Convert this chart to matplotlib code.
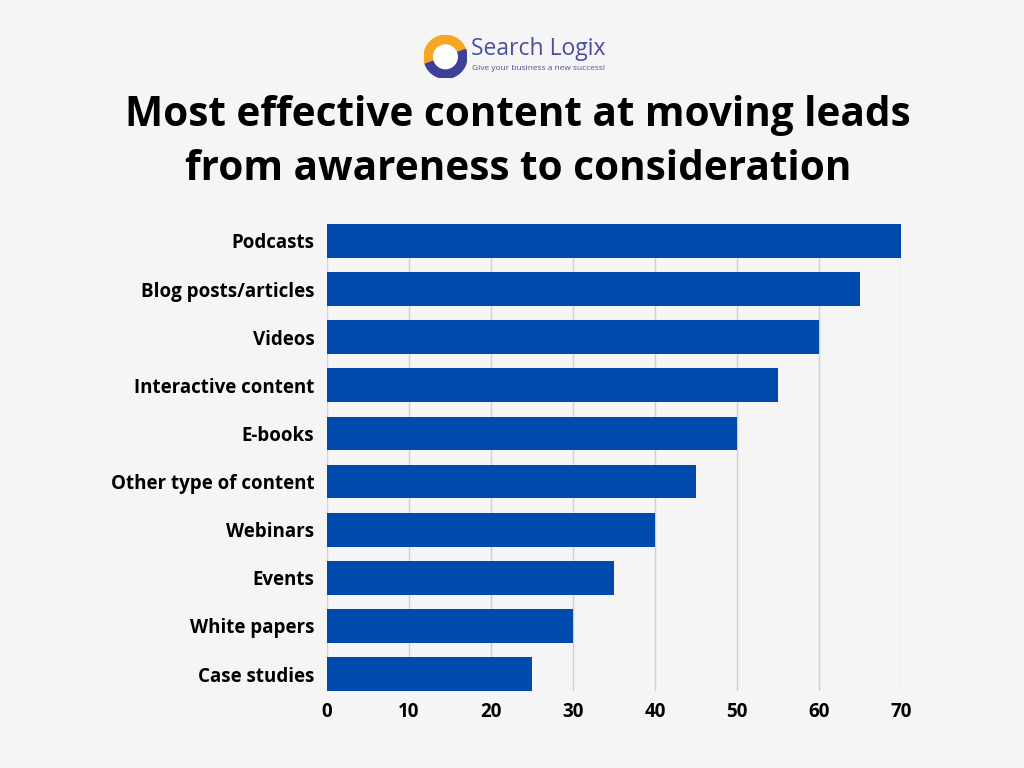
import matplotlib
matplotlib.use("Agg")
import matplotlib.pyplot as plt
from matplotlib.patches import Wedge, Circle

categories = ["Podcasts", "Blog posts/articles", "Videos", "Interactive content", "E-books",
              "Other type of content", "Webinars", "Events", "White papers", "Case studies"]
values = [70, 65, 60, 55, 50, 45, 40, 35, 30, 25]
xticks = [0, 10, 20, 30, 40, 50, 60, 70]

bg = "#f5f5f5"
bar_color = "#004aad"

plt.rcParams["font.family"] = ["Open Sans", "DejaVu Sans"]

fig = plt.figure(figsize=(10.24, 7.68), dpi=100, facecolor=bg)
ax = fig.add_axes([0.3193, 0.1003, 0.5606, 0.608], facecolor=bg)

ypos = list(range(len(categories)))
ax.barh(ypos, values, height=0.7, color=bar_color, zorder=3)
ax.set_ylim(len(categories) - 0.65, -0.35)
ax.set_xlim(0, 70)
ax.set_yticks(ypos)
ax.set_yticklabels(categories, fontsize=13.5, fontweight="bold")
ax.set_xticks(xticks)
ax.set_xticklabels([str(t) for t in xticks], fontsize=13.5, fontweight="bold")
ax.tick_params(axis="y", length=0, pad=9)
ax.tick_params(axis="x", length=0, pad=8)
ax.grid(axis="x", color="#d0d0d0", linewidth=1, zorder=0)
for s in ax.spines.values():
    s.set_visible(False)

# title
fig.text(0.506, 0.815, "Most effective content at moving leads\nfrom awareness to consideration",
         ha="center", va="center", fontsize=29.2, fontweight="bold", color="black", linespacing=1.42)

# logo
lax = fig.add_axes([0.414, 0.898, 0.042, 0.056])
lax.set_xlim(-1, 1)
lax.set_ylim(-1, 1)
lax.set_aspect("equal")
lax.axis("off")
lax.add_patch(Wedge((0, 0), 1, 20, 200, width=0.45, color="#f5a623"))
lax.add_patch(Wedge((0, 0), 1, 200, 380, width=0.45, color="#3d3f99"))
lax.add_patch(Circle((0, 0), 0.55, color="#ffffff"))
fig.text(0.460, 0.936, "Search Logix", fontsize=16.5, color="#4b4ea0", va="center", ha="left")
fig.text(0.461, 0.911, "Give your business a new success!", fontsize=6, color="#4b4ea0",
         va="center", ha="left")

fig.savefig("out.png", dpi=100, facecolor=bg)
